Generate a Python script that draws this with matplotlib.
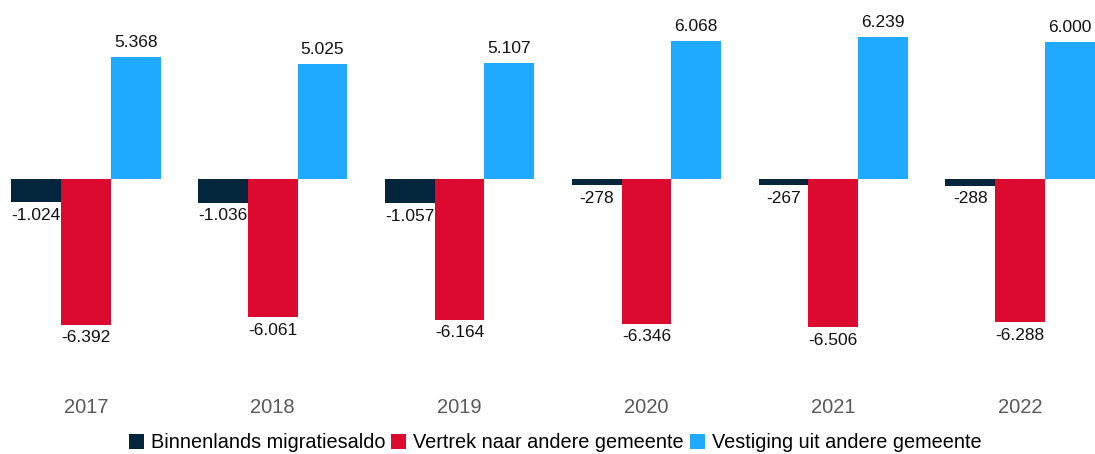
import numpy as np
import matplotlib.pyplot as plt

years = ["2017", "2018", "2019", "2020", "2021", "2022"]
saldo = [-1024, -1036, -1057, -278, -267, -288]
vertrek = [-6392, -6061, -6164, -6346, -6506, -6288]
vestiging = [5368, 5025, 5107, 6068, 6239, 6000]

series = [
    ("Binnenlands migratiesaldo", saldo, "#03263C"),
    ("Vertrek naar andere gemeente", vertrek, "#DC0A2F"),
    ("Vestiging uit andere gemeente", vestiging, "#1FA9FF"),
]

plt.rcParams['font.family'] = ['Liberation Sans', 'DejaVu Sans']

fig = plt.figure(figsize=(10.95, 4.54), dpi=100)
ax = fig.add_axes([0, 0, 1, 1])

x = np.arange(len(years))
w = 0.8 / 3

def fmt(v):
    return f"{v:,}".replace(",", ".")

for i, (name, vals, color) in enumerate(series):
    pos = x + (i - 1) * w
    bars = ax.bar(pos, vals, w, color=color, label=name)
    for b, v in zip(bars, vals):
        off = 5 if v > 0 else -4
        ax.annotate(fmt(v), (b.get_x() + b.get_width() / 2, v),
                    xytext=(0, off), textcoords="offset points",
                    ha="center", va="bottom" if v > 0 else "top",
                    fontsize=12.5, color="#111111")

for xi, yr in zip(x, years):
    ax.text(xi, -10000, yr, ha="center", va="center", fontsize=14.5, color="#595959")

ax.set_xlim(-0.459, 5.4)
ax.set_ylim(-12060, 7850)
ax.axis("off")

fig.legend(loc="center", bbox_to_anchor=(0.507, 1 - 443 / 454), ncol=3,
           frameon=False, fontsize=14.3, handlelength=0.75, handleheight=0.75,
           handletextpad=0.35, columnspacing=0.3, borderaxespad=0)

fig.savefig("out.png", dpi=100)
